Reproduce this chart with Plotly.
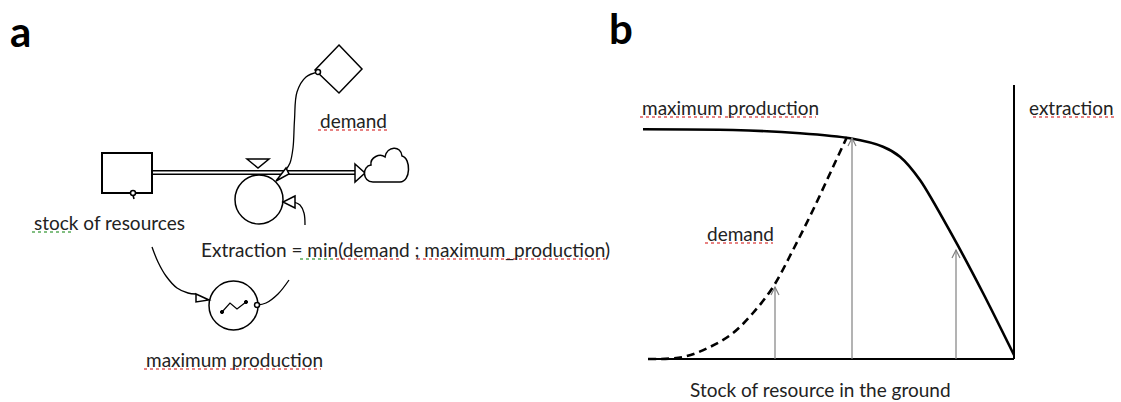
import plotly.graph_objects as go

W, H = 1121, 402
FONT = "Lato"

# ---------- panel b data (pixel space of the reference) ----------
maxprod_x = [643, 733, 800, 850, 883, 900, 920, 953, 983, 1014]
maxprod_y = [129.3, 130, 133.3, 138.3, 146.7, 156.7, 180, 236.7, 293, 355]
demand_x = [648, 683, 710, 733, 753, 773, 793, 813, 833, 847]
demand_y = [359, 357, 347, 333, 313, 287, 250, 210, 167, 137]
arrow_x = [775, 852, 956]
arrow_top = [287, 138, 250]
axis_origin = (648, 359)
axis_corner = (1014, 359)
axis_top = 85

# ---------- panel a diagram geometry ----------
stock_box = (102, 153, 152, 193)
pipe_y = (170.7, 174.3)
pipe_x = (152, 357)
flow_circle = (235, 175, 283, 224)
maxprod_circle = (209, 281, 258, 330)
diamond = [(339, 45), (362, 69), (339, 93), (315, 70)]
link_demand_x = [318, 306, 297, 294.5, 293, 290, 285]
link_demand_y = [72, 77, 92, 120, 148, 163, 171]
link_right_x = [305, 304, 300, 294]
link_right_y = [225, 213, 205, 202]
link_stock_x = [152, 158, 166, 177, 188, 196]
link_stock_y = [247, 262, 276, 288, 293, 294]
link_mp_x = [257, 266, 278, 289]
link_mp_y = [305, 303, 294, 280]
zigzag_x = [222, 230, 237, 246]
zigzag_y = [312, 303, 309, 302]

texts = [
    # text, x, y(center), anchor, underline spans [(x0,x1,color)]
    ("demand", 318, 120, "left", [(318, 387, "#e05a5a")]),
    ("stock of resources", 32, 222, "left", [(32, 73, "#5aaa5a")]),
    ("Extraction = min(demand ; maximum_production)", 199, 249, "left",
     [(300, 336, "#5aaa5a"), (336, 402, "#e05a5a"), (417, 605, "#e05a5a")]),
    ("maximum production", 144, 359, "left", [(144, 225, "#e05a5a"), (230, 321, "#e05a5a")]),
    ("maximum production", 640, 107, "left", [(640, 721, "#e05a5a"), (725, 816, "#e05a5a")]),
    ("extraction", 1116, 107, "right", [(1033, 1115, "#e05a5a")]),
    ("demand", 705, 233, "left", [(705, 773, "#e05a5a")]),
    ("Stock of resource in the ground", 688, 389, "left", []),
]
panel_labels = [("a", 8, 31), ("b", 607, 28)]

fig = go.Figure()
shapes = []
BLK = dict(color="black", width=1.5)

# stock box
shapes.append(dict(type="rect", x0=stock_box[0], y0=stock_box[1], x1=stock_box[2], y1=stock_box[3],
                   line=dict(color="black", width=2)))
# pipe (double line)
for py in pipe_y:
    shapes.append(dict(type="line", x0=pipe_x[0], y0=py, x1=pipe_x[1], y1=py, line=BLK))
# pipe arrowhead
shapes.append(dict(type="path", path="M 355,164 L 365,173 L 355,182 Z",
                   line=BLK, fillcolor="white"))
# cloud
shapes.append(dict(type="path",
                   path="M 373,182 C 362,182 362,166 371,165 C 370,157 380,153 385,157 "
                        "C 387,146 401,145 402,156 C 411,158 411,182 400,182 Z",
                   line=BLK, fillcolor="white"))
# valve triangle
shapes.append(dict(type="path", path="M 247,159 L 269,159 L 258,168 Z", line=BLK))
# flow circle
shapes.append(dict(type="circle", x0=flow_circle[0], y0=flow_circle[1], x1=flow_circle[2], y1=flow_circle[3],
                   line=BLK))
# max production aux circle
shapes.append(dict(type="circle", x0=maxprod_circle[0], y0=maxprod_circle[1], x1=maxprod_circle[2],
                   y1=maxprod_circle[3], line=BLK))
# diamond
dpath = "M " + " L ".join(f"{x},{y}" for x, y in diamond) + " Z"
shapes.append(dict(type="path", path=dpath, line=BLK))
# small circles
for cx, cy in [(318, 72), (133, 193), (257, 305)]:
    shapes.append(dict(type="circle", x0=cx - 2.5, y0=cy - 2.5, x1=cx + 2.5, y1=cy + 2.5, line=BLK,
                       fillcolor="white"))
shapes.append(dict(type="line", x0=133, y0=195, x1=134, y1=199, line=BLK))
# small hollow arrowheads of the links
shapes.append(dict(type="path", path="M 286,168 L 276,181 L 289,174 Z", line=BLK, fillcolor="white"))
shapes.append(dict(type="path", path="M 295,196 L 283,202 L 295,208 Z", line=BLK, fillcolor="white"))
shapes.append(dict(type="path", path="M 196,294 L 209,300 L 196,302 Z", line=BLK, fillcolor="white"))
# dots of the lookup glyph
for zx, zy in zip([zigzag_x[0], zigzag_x[-1]], [zigzag_y[0], zigzag_y[-1]]):
    shapes.append(dict(type="circle", x0=zx - 1.6, y0=zy - 1.6, x1=zx + 1.6, y1=zy + 1.6,
                       line=dict(color="black", width=1), fillcolor="black"))

# panel b axes
shapes.append(dict(type="line", x0=axis_origin[0], y0=axis_origin[1], x1=axis_corner[0], y1=axis_corner[1],
                   line=dict(color="black", width=2)))
shapes.append(dict(type="line", x0=axis_corner[0], y0=axis_corner[1], x1=axis_corner[0], y1=axis_top,
                   line=dict(color="black", width=2)))
# panel b vertical arrows
GRY = dict(color="#808080", width=1.2)
for ax, at in zip(arrow_x, arrow_top):
    shapes.append(dict(type="line", x0=ax, y0=axis_origin[1], x1=ax, y1=at, line=GRY))
    shapes.append(dict(type="path", path=f"M {ax-4},{at+8} L {ax},{at} L {ax+4},{at+8}", line=GRY))

# underlines
for t, x, y, anc, spans in texts:
    for x0, x1, col in spans:
        shapes.append(dict(type="line", x0=x0, y0=y + 10, x1=x1, y1=y + 10,
                           line=dict(color=col, width=1.3, dash="dot")))

# link curves as spline traces
for xs, ys in [(link_demand_x, link_demand_y), (link_right_x, link_right_y),
               (link_stock_x, link_stock_y), (link_mp_x, link_mp_y)]:
    fig.add_trace(go.Scatter(x=xs, y=ys, mode="lines", line=dict(color="black", width=1.3, shape="spline"),
                             hoverinfo="skip", showlegend=False))
fig.add_trace(go.Scatter(x=zigzag_x, y=zigzag_y, mode="lines", line=dict(color="black", width=1.2),
                         hoverinfo="skip", showlegend=False))

# panel b curves
fig.add_trace(go.Scatter(x=maxprod_x, y=maxprod_y, mode="lines",
                         line=dict(color="black", width=2.6, shape="spline", smoothing=0.8),
                         hoverinfo="skip", showlegend=False))
fig.add_trace(go.Scatter(x=demand_x, y=demand_y, mode="lines",
                         line=dict(color="black", width=2.6, shape="spline", dash="8px,5px"),
                         hoverinfo="skip", showlegend=False))

annotations = []
for t, x, y, anc, spans in texts:
    annotations.append(dict(x=x, y=y, text=t, showarrow=False, xanchor=anc, yanchor="middle",
                            xref="x", yref="y", font=dict(family=FONT, size=19, color="#222222")))
for t, x, y in panel_labels:
    annotations.append(dict(x=x, y=y, text=f"<b>{t}</b>", showarrow=False, xanchor="left", yanchor="middle",
                            xref="x", yref="y", font=dict(family=FONT, size=42, color="black")))

fig.update_layout(
    width=W, height=H, autosize=False,
    margin=dict(l=0, r=0, t=0, b=0),
    paper_bgcolor="white", plot_bgcolor="white",
    xaxis=dict(range=[0, W], visible=False, fixedrange=True),
    yaxis=dict(range=[H, 0], visible=False, fixedrange=True),
    shapes=shapes, annotations=annotations,
)
fig.write_html("out.html", config=dict(displayModeBar=False),
               post_script="document.body.style.margin='0';document.body.style.overflow='hidden';")
